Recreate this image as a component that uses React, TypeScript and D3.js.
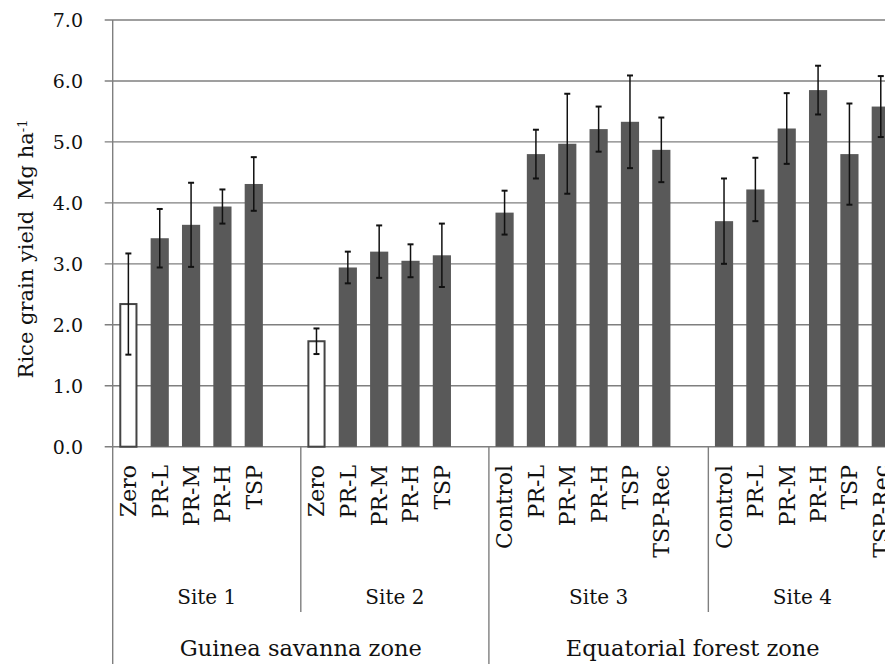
import * as d3 from "d3";
import { useRef, useEffect } from "react";

// treatments per site (blank slot follows each site except the last)
const sites = ["Site 1", "Site 2", "Site 3", "Site 4"];
const zones = ["Guinea savanna zone", "Equatorial forest zone"];
const siteZone = [0, 0, 1, 1];

const treatments = [
	["Zero", "PR-L", "PR-M", "PR-H", "TSP"],
	["Zero", "PR-L", "PR-M", "PR-H", "TSP"],
	["Control", "PR-L", "PR-M", "PR-H", "TSP", "TSP-Rec"],
	["Control", "PR-L", "PR-M", "PR-H", "TSP", "TSP-Rec"],
];

// Rice grain yield, Mg ha-1
const yieldMeans = [
	[2.34, 3.42, 3.64, 3.94, 4.31],
	[1.73, 2.94, 3.20, 3.05, 3.14],
	[3.84, 4.80, 4.97, 5.21, 5.33, 4.87],
	[3.70, 4.22, 5.22, 5.85, 4.80, 5.58],
];

const yieldErrors = [
	[0.83, 0.48, 0.69, 0.28, 0.44],
	[0.21, 0.26, 0.43, 0.27, 0.52],
	[0.36, 0.40, 0.82, 0.37, 0.76, 0.53],
	[0.70, 0.52, 0.58, 0.40, 0.83, 0.50],
];

const yTicks = [0, 1, 2, 3, 4, 5, 6, 7];

const W = 885;
const H = 664;
const FONT = "'DejaVu Serif', serif";
const TEXT = "#111";

const App = () => {
	const chartRef = useRef(null);

	useEffect(() => {
		const svg = d3.select(chartRef.current);
		svg.selectAll("*").remove();

		// build slots: treatments + a blank after each site but the last
		const slots = [];
		const bars = [];
		treatments.forEach((list, s) => {
			list.forEach((t, i) => {
				const key = `${s}-${i}`;
				slots.push(key);
				bars.push({ key, site: s, label: t, value: yieldMeans[s][i], err: yieldErrors[s][i], control: t === "Zero" });
			});
			if (s < treatments.length - 1) slots.push(`${s}-gap`);
		});

		const left = 112.7;
		const step = 31.35;
		const x = d3.scaleBand()
			.domain(slots)
			.range([left, left + slots.length * step])
			.paddingInner(0.42)
			.paddingOuter(0.21);

		const y = d3.scaleLinear().domain([0, 7]).range([446.7, 20]);

		const gridColor = "#7f7f7f";
		const barColor = "#595959";

		// gridlines
		svg.append("g")
			.selectAll("line")
			.data(yTicks)
			.enter()
			.append("line")
			.attr("x1", left - 8)
			.attr("x2", W)
			.attr("y1", d => y(d))
			.attr("y2", d => y(d))
			.attr("stroke", gridColor)
			.attr("stroke-width", 1.4);

		// y tick labels
		svg.append("g")
			.selectAll("text")
			.data(yTicks)
			.enter()
			.append("text")
			.attr("x", 83)
			.attr("y", d => y(d))
			.attr("dy", "0.36em")
			.attr("text-anchor", "end")
			.style("font-family", FONT)
			.style("font-size", "19px")
			.style("fill", TEXT)
			.text(d => d.toFixed(1));

		// y axis line (runs down through the category area)
		svg.append("line")
			.attr("x1", left).attr("x2", left)
			.attr("y1", y(7)).attr("y2", H)
			.attr("stroke", gridColor)
			.attr("stroke-width", 1.4);

		// y title
		const title = svg.append("text")
			.attr("transform", `translate(33, 249) rotate(-90)`)
			.attr("text-anchor", "middle")
			.style("font-family", FONT)
			.style("font-size", "21px")
			.style("fill", TEXT);
		title.append("tspan").text("Rice grain yield");
		title.append("tspan").attr("dx", 11).text("Mg ha");
		title.append("tspan").attr("dy", "-0.5em").style("font-size", "13px").text("-1");

		// bars
		svg.append("g")
			.selectAll("rect")
			.data(bars)
			.enter()
			.append("rect")
			.attr("x", d => x(d.key) + (d.control ? 1 : 0))
			.attr("y", d => y(d.value))
			.attr("width", d => x.bandwidth() - (d.control ? 2 : 0))
			.attr("height", d => y(0) - y(d.value))
			.style("fill", d => d.control ? "#fff" : barColor)
			.style("stroke", d => d.control ? "#444" : "none")
			.style("stroke-width", 2);

		// error bars
		const eb = svg.append("g")
			.selectAll("g")
			.data(bars)
			.enter()
			.append("g")
			.attr("transform", d => `translate(${x(d.key) + x.bandwidth() / 2},0)`);
		eb.append("line")
			.attr("y1", d => y(d.value + d.err))
			.attr("y2", d => y(d.value - d.err))
			.attr("stroke", "#111")
			.attr("stroke-width", 1.5);
		[1, -1].forEach(sign => {
			eb.append("line")
				.attr("x1", -3).attr("x2", 3)
				.attr("y1", d => y(d.value + sign * d.err))
				.attr("y2", d => y(d.value + sign * d.err))
				.attr("stroke", "#111")
				.attr("stroke-width", 2);
		});

		// treatment labels
		svg.append("g")
			.selectAll("text")
			.data(bars)
			.enter()
			.append("text")
			.attr("transform", d => `translate(${x(d.key) + x.bandwidth() / 2}, 465) rotate(-90)`)
			.attr("dy", "0.36em")
			.attr("text-anchor", "end")
			.style("font-family", FONT)
			.style("font-size", "22px")
			.style("fill", TEXT)
			.text(d => d.label);

		// site boundaries and labels
		const pad = (x.step() - x.bandwidth()) / 2;
		const siteStart = sites.map((_, s) => x(`${s}-0`) - pad);
		const siteEnd = sites.map((_, s) => {
			const n = treatments[s].length;
			return s < sites.length - 1 ? siteStart[s + 1] : x(`${s}-${n - 1}`) + x.bandwidth() + pad;
		});

		sites.forEach((name, s) => {
			if (s > 0) {
				const zoneEdge = siteZone[s] !== siteZone[s - 1];
				svg.append("line")
					.attr("x1", siteStart[s]).attr("x2", siteStart[s])
					.attr("y1", y(0)).attr("y2", zoneEdge ? H : 612)
					.attr("stroke", gridColor)
					.attr("stroke-width", 1.4);
			}
			svg.append("text")
				.attr("x", (siteStart[s] + siteEnd[s]) / 2)
				.attr("y", 604)
				.attr("text-anchor", "middle")
				.style("font-family", FONT)
				.style("font-size", "20px")
				.style("fill", TEXT)
				.text(name);
		});

		zones.forEach((name, z) => {
			const idx = siteZone.map((v, i) => v === z ? i : -1).filter(i => i >= 0);
			const x0 = siteStart[idx[0]];
			const x1 = siteEnd[idx[idx.length - 1]];
			svg.append("text")
				.attr("x", (x0 + x1) / 2)
				.attr("y", 656)
				.attr("text-anchor", "middle")
				.style("font-family", FONT)
				.style("font-size", "22.5px")
				.style("fill", TEXT)
				.text(name);
		});
	}, []);

	return (
		<svg ref={chartRef} width={W} height={H}
			style={{ position: "absolute", left: 0, top: 0, display: "block", background: "#fff" }} />
	);
};

export default App;
